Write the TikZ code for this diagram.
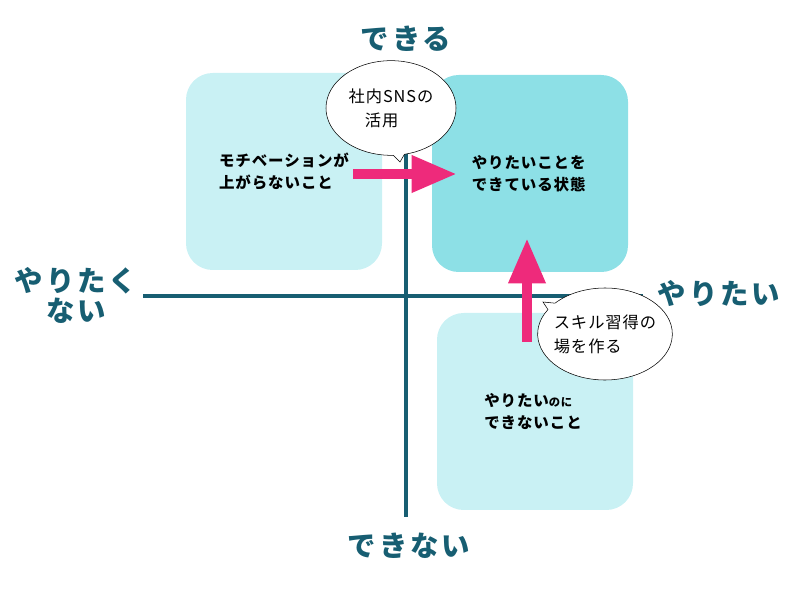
\documentclass[tikz,border=0pt]{standalone}
\usepackage{fontspec}
\usepackage{xcolor}
\usepackage{tikz}
\usetikzlibrary{arrows.meta,shapes.callouts}
\newfontfamily\jpfont[LetterSpace=6]{Noto Sans CJK JP}
\newfontfamily\jpaxis[LetterSpace=10]{Noto Sans CJK JP}

\definecolor{axisteal}{HTML}{175E72}
\definecolor{paleaqua}{HTML}{C9F1F4}
\definecolor{deepaqua}{HTML}{8DE0E6}
\definecolor{pushpink}{HTML}{EE2A7B}

\begin{document}
\begin{tikzpicture}[x=0.75pt,y=-0.75pt,semithick]

		\tikzstyle{box}=[rounded corners=20pt,minimum width=147pt,minimum height=147.75pt,inner sep=0pt,align=left,text=black,font=\jpfont\bfseries\fontsize{11.6}{16.5}\selectfont]
		\tikzstyle{axis}=[draw=axisteal,line width=3.4pt]
		\tikzstyle{lab}=[text=axisteal,align=center,font=\jpaxis\bfseries\fontsize{21.3}{22.5}\selectfont]
		\tikzstyle{bubble}=[ellipse callout,draw=black,fill=white,thin,callout pointer arc=10,inner sep=0pt,align=left,font=\jpfont\fontsize{12.2}{18}\selectfont]
		\tikzstyle{push}=[draw=pushpink,line width=7.8pt,-{Triangle[length=34pt,width=26pt]}]

		\useasboundingbox (0,0) rectangle (800,598);

		\node[box,fill=paleaqua] (motiv) at (284,171.5) {モチベーションが\\上がらないこと};
		\node[box,fill=deepaqua] (goal)  at (530,173.5) {\hspace*{-2pt}やりたいことを\\\hspace*{-2pt}できている状態};
		\node[box,fill=paleaqua] (gap)   at (535,411.5) {\hspace*{-3pt}やりたい{\fontsize{8.5}{10}\selectfont のに}\\\hspace*{-3pt}できないこと};

		\coordinate (xl) at (143,296);
		\coordinate (xr) at (643,296);
		\coordinate (yt) at (406,75);
		\coordinate (yb) at (406,517);
		\draw[axis] (xl) -- (xr);
		\draw[axis] (yt) -- (yb);

		\node[lab] (can)     at (406,39)  {できる};
		\node[lab] (cannot)  at (409,546) {できない};
		\node[lab] (notwant) at (76,295)  {やりたく\\ない};
		\node[lab] (want)    at (719,294) {やりたい};

		\coordinate (tailA) at (400,162);
		\coordinate (tailB) at (543,302);
		\node[bubble,minimum width=97.5pt,minimum height=71pt,callout absolute pointer={(tailA)}] (sns)   at (391,108) {社内SNSの\\\hspace*{1em}活用};
		\node[bubble,inner xsep=-3.5pt,minimum width=101pt,minimum height=69pt,callout absolute pointer={(tailB)}]  (skill) at (605,334) {スキル習得の\\場を作る};

		\coordinate (pa1) at (353,174);
		\coordinate (pa2) at (457,174);
		\coordinate (pb1) at (527,342);
		\coordinate (pb2) at (527,238);
		\draw[push] (pa1) -- (pa2);
		\draw[push] (pb1) -- (pb2);

	\end{tikzpicture}
\end{document}
